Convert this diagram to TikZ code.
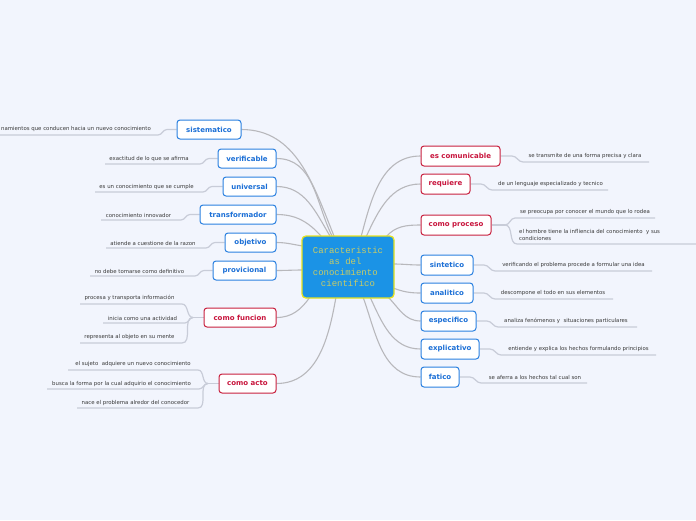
\documentclass[tikz,border=0pt]{standalone}
\usepackage{fontspec}
\setmainfont{DejaVu Sans}
\newfontfamily\monof{Liberation Mono}
\usetikzlibrary{backgrounds}
\definecolor{bgc}{HTML}{F2F5FD}
\definecolor{nblue}{HTML}{2A80E0}
\definecolor{tblue}{HTML}{1B6FD6}
\definecolor{nred}{HTML}{C8203E}
\definecolor{tred}{HTML}{C8143C}
\definecolor{conngray}{HTML}{B8B8BC}
\definecolor{ulgray}{HTML}{C8CCD8}
\definecolor{leaftext}{HTML}{3A3A3A}
\definecolor{cblue}{HTML}{1B93E6}
\definecolor{cyel}{HTML}{E6E21E}
\definecolor{ctext}{HTML}{C8CC66}
\begin{document}
\begin{tikzpicture}[x=1pt,y=-1pt,
  bnode/.style={draw=nblue, fill=white, rounded corners=3pt, line width=1pt, text=tblue,
    font=\fontsize{7}{8}\selectfont\bfseries, inner sep=0pt, minimum height=19pt},
  rnode/.style={bnode, draw=nred, text=tred},
  leaf/.style={font=\fontsize{5.4}{7}\selectfont, text=leaftext, inner sep=0pt},
  conn/.style={draw=conngray, line width=1.1pt},
  uline/.style={draw=ulgray, line width=1.2pt}]
\useasboundingbox (0,0) rectangle (696,520);

% centre
\node[draw=cyel, fill=cblue, line width=1.3pt, rounded corners=4pt, minimum width=92pt,
  minimum height=62pt, align=center, inner sep=0pt, font=\monof\fontsize{9}{11}\selectfont, text=ctext]
  (c) at (348,267) {Caracteristic\\as del\ \mbox{}\\conocimiento\ \mbox{}\\cientifico};

% left nodes
\node[bnode, minimum width=64pt] (sist) at (209,129.5) {sistematico};
\node[bnode, minimum width=58pt] (verif) at (247,158.5) {verificable};
\node[bnode, minimum width=53pt] (univ) at (249.5,186.5) {universal};
\node[bnode, minimum width=76pt] (transf) at (238,214.5) {transformador};
\node[bnode, minimum width=51pt] (objet) at (250.5,242.5) {objetivo};
\node[bnode, minimum width=63pt] (provic) at (244.5,270.5) {provicional};
\node[rnode, minimum width=72pt] (func) at (240,317.5) {como funcion};
\node[rnode, minimum width=57pt] (acto) at (247.5,383.5) {como acto};

% right nodes
\node[rnode, minimum width=79pt, minimum height=20pt] (comun) at (460.5,156) {es comunicable};
\node[rnode, minimum width=49pt, minimum height=20pt] (requ) at (445.5,184) {requiere};
\node[rnode, minimum width=70pt, minimum height=20pt] (proc) at (456,225) {como proceso};
\node[bnode, minimum width=52pt, minimum height=20pt] (sint) at (447,265) {sintetico};
\node[bnode, minimum width=52pt, minimum height=20pt] (anal) at (447,293) {analitico};
\node[bnode, minimum width=55pt, minimum height=20pt] (espe) at (448.5,321) {especifico};
\node[bnode, minimum width=58pt, minimum height=20pt] (expl) at (450,349) {explicativo};
\node[bnode, minimum width=38pt, minimum height=20pt] (fati) at (440,377) {fatico};

% leaves left
\node[leaf, anchor=east] (l1) at (151,129) {namientos que conducen hacia un nuevo conocimiento};
\node[leaf] (l2) at (149,159) {exactitud de lo que se afirma};
\node[leaf] (l3) at (146.5,187) {es un conocimiento que se cumple};
\node[leaf] (l4) at (138.5,215) {conocimiento innovador};
\node[leaf] (l5) at (153,243) {atiende a cuestione de la razon};
\node[leaf] (l6) at (139.5,271) {no debe tomarse como definitivo};
\node[leaf] (l7) at (129.5,298) {procesa y transporta información};
\node[leaf] (l8) at (142.5,318) {inicia como una actividad};
\node[leaf] (l9) at (129.5,337) {representa al objeto en su mente};
\node[leaf] (l10) at (133,364) {el sujeto\ \ adquiere un nuevo conocimiento};
\node[leaf] (l11) at (121.5,384) {busca la forma por la cual adquirio el conocimiento};
\node[leaf] (l12) at (135.5,403) {nace el problema alredor del conocedor};

% leaves right
\node[leaf] (r1) at (585,156) {se transmite de una forma precisa y clara};
\node[leaf] (r2) at (550.5,184) {de un lenguaje especializado y tecnico};
\node[leaf] (r3) at (585,212) {se preocupa por conocer el mundo que lo rodea};
\node[leaf, anchor=west, align=left] (r4) at (519,234.5) {el hombre tiene la infliencia del conocimiento\ \ y sus\\condiciones};
\node[leaf] (r5) at (573.5,265) {verificando el problema procede a formular una idea};
\node[leaf] (r6) at (553,293) {descompone el todo en sus elementos};
\node[leaf] (r7) at (566,321) {analiza fenómenos y\ \ situaciones particulares};
\node[leaf] (r8) at (578.5,349) {entiende y explica los hechos formulando principios};
\node[leaf] (r9) at (535,377) {se aferra a los hechos tal cual son};

\coordinate (jf) at (193,317.5);
\coordinate (ja) at (208,383.5);
\coordinate (jp) at (505,225);

\begin{scope}[on background layer]
\fill[bgc] (0,0) rectangle (696,520);
% main connectors
\draw[conn] (sist.east) to[out=0,in=112] (334,236);
\draw[conn] (verif.east) to[out=0,in=116] (332,236);
\draw[conn] (univ.east) to[out=0,in=121] (330,236);
\draw[conn] (transf.east) to[out=0,in=132] (321,236);
\draw[conn] (objet.east) to[out=0,in=172] (303,246);
\draw[conn] (provic.east) to[out=0,in=180] (303,270);
\draw[conn] (func.east) to[out=0,in=-125] (310,297);
\draw[conn] (acto.east) to[out=0,in=-100] (336,297);
\draw[conn] (361,237) to[out=75,in=180] (comun.west);
\draw[conn] (366,237) to[out=65,in=180] (requ.west);
\draw[conn] (386,237) to[out=50,in=180] (proc.west);
\draw[conn] (393,264) to[out=0,in=180] (sint.west);
\draw[conn] (393,288) to[out=-20,in=180] (anal.west);
\draw[conn] (388,297) to[out=-45,in=180] (espe.west);
\draw[conn] (370,297) to[out=-65,in=180] (expl.west);
\draw[conn] (363,297) to[out=-70,in=180] (fati.west);
% leaf underlines, left
\draw[uline] (0,135) -- (158,135) to[out=0,in=180] (167,129.5) -- (sist.west);
\draw[uline] (105,164) -- (200,164) to[out=0,in=180] (209,158.5) -- (verif.west);
\draw[uline] (95,192) -- (203,192) to[out=0,in=180] (212,186.5) -- (univ.west);
\draw[uline] (101,220) -- (181,220) to[out=0,in=180] (190,214.5) -- (transf.west);
\draw[uline] (106,248) -- (206,248) to[out=0,in=180] (215,242.5) -- (objet.west);
\draw[uline] (90,276) -- (195,276) to[out=0,in=180] (204,270.5) -- (provic.west);
\draw[uline] (80,304) -- (182,304) to[out=0,in=180] (jf);
\draw[uline] (103,323) -- (185,323) to[out=0,in=180] (jf);
\draw[uline] (80,343) -- (182,343) to[out=0,in=180] (jf);
\draw[uline] (jf) -- (func.west);
\draw[uline] (68,370) -- (198,370) to[out=0,in=180] (ja);
\draw[uline] (47,389) -- (199,389) to[out=0,in=180] (ja);
\draw[uline] (77,408) -- (198,408) to[out=0,in=180] (ja);
\draw[uline] (ja) -- (acto.west);
% leaf underlines, right
\draw[uline] (comun.east) -- (512,156) to[out=0,in=180] (523,162) -- (649,162);
\draw[uline] (requ.east) -- (481,184) to[out=0,in=180] (492,190) -- (608,190);
\draw[uline] (proc.east) -- (jp);
\draw[uline] (jp) to[out=0,in=180] (515,218) -- (655,218);
\draw[uline] (jp) to[out=0,in=180] (517,244) -- (696,244);
\draw[uline] (sint.east) -- (484,265) to[out=0,in=180] (495,271) -- (652,271);
\draw[uline] (anal.east) -- (484,293) to[out=0,in=180] (495,299) -- (613,299);
\draw[uline] (espe.east) -- (487,321) to[out=0,in=180] (498,327) -- (637,327);
\draw[uline] (expl.east) -- (490,349) to[out=0,in=180] (501,355) -- (656,355);
\draw[uline] (fati.east) -- (470,377) to[out=0,in=180] (481,383) -- (587,383);
\end{scope}
\end{tikzpicture}
\end{document}
